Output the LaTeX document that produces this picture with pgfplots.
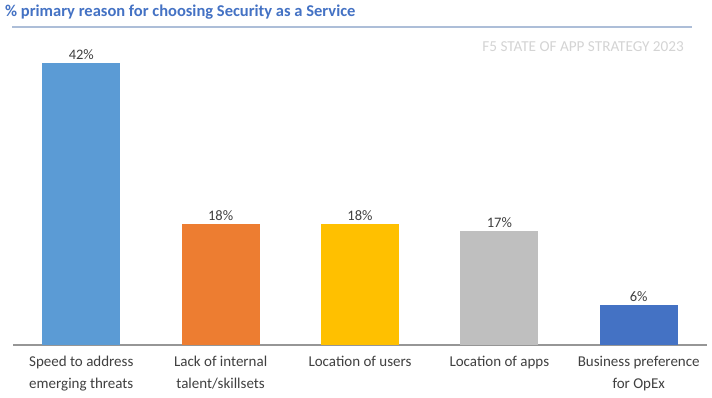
\documentclass[border=0pt]{standalone}
\usepackage{pgfplots}
\pgfplotsset{compat=1.18}
\usepackage{fontspec}
\setmainfont{Carlito}
\definecolor{c1}{RGB}{91,155,213}
\definecolor{c2}{RGB}{237,125,49}
\definecolor{c3}{RGB}{255,192,0}
\definecolor{c4}{RGB}{191,191,191}
\definecolor{c5}{RGB}{68,114,196}
\definecolor{titlec}{RGB}{68,114,196}
\definecolor{rulec}{RGB}{173,190,216}
\definecolor{wm}{RGB}{212,212,212}
\definecolor{txt}{RGB}{64,64,64}
\definecolor{axc}{RGB}{150,150,150}
\begin{document}
\begin{tikzpicture}
\path[use as bounding box, fill=white] (0,0) rectangle (712pt,398pt);
\node[anchor=base west, font=\bfseries\fontsize{16.5}{19}\selectfont, text=titlec, inner sep=0] at (5pt,381pt) {\% primary reason for choosing Security as a Service};
\draw[rulec, line width=1.6pt] (12pt,371pt) -- (692pt,371pt);
\node[anchor=base east, font=\fontsize{15.2}{18}\selectfont, text=wm, inner sep=0] at (684pt,346pt) {F5 STATE OF APP STRATEGY 2023};
\begin{axis}[
  at={(13pt,53pt)}, anchor=south west,
  scale only axis, width=694pt, height=302pt,
  xmin=-0.49, xmax=4.49, ymin=0, ymax=45,
  axis y line=none, axis x line=bottom,
  x axis line style={-, draw=axc, line width=1.2pt},
  ytick=\empty,
  xtick={0,1,2,3,4},
  major tick length=0pt,
  xticklabels={{Speed to address\\emerging threats},{Lack of internal\\talent/skillsets},{Location of users},{Location of apps},{Business preference\\for OpEx}},
  xticklabel style={align=center, font=\fontsize{15}{22}\selectfont, text=txt, yshift=-8pt},
  ybar, bar width=78pt, bar shift=0pt,
  nodes near coords={\pgfmathprintnumber[assume math mode=true]{\pgfplotspointmeta}\%},
  nodes near coords style={font=\fontsize{14.5}{17}\selectfont, text=txt},
  clip=false,
]
\addplot[draw=none, fill=c1] coordinates {(0,42)};
\addplot[draw=none, fill=c2] coordinates {(1,18)};
\addplot[draw=none, fill=c3] coordinates {(2,18)};
\addplot[draw=none, fill=c4] coordinates {(3,17)};
\addplot[draw=none, fill=c5] coordinates {(4,6)};
\end{axis}
\end{tikzpicture}
\end{document}
